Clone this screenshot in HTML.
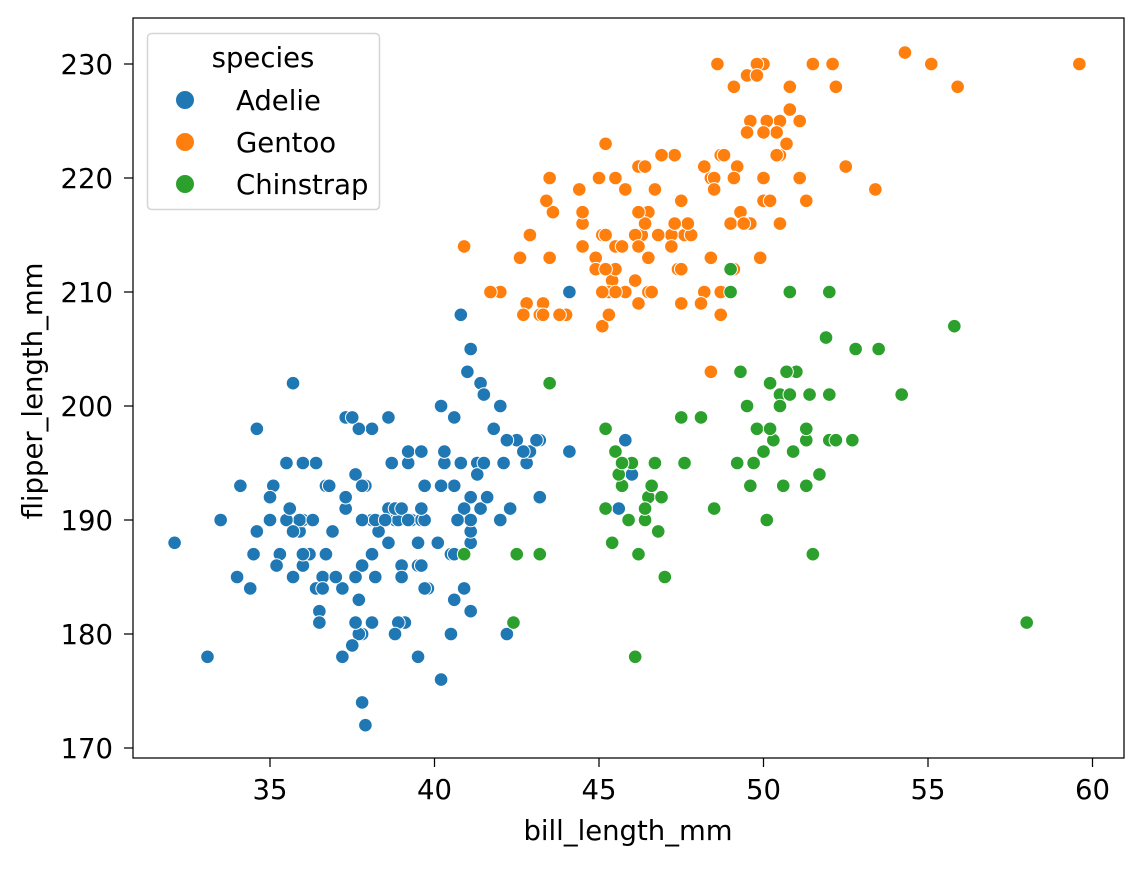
<!DOCTYPE html>
<html><head><meta charset="utf-8"><style>
html,body{margin:0;padding:0;background:#fff;}
svg text{font-family:"DejaVu Sans","Liberation Sans",sans-serif;fill:#000;}
</style></head><body>
<svg id="chart" width="1144" height="866" xmlns="http://www.w3.org/2000/svg">
<rect x="0" y="0" width="1144" height="866" fill="#fff"/>
<g id="points"></g>
<rect x="133" y="18" width="991" height="740" fill="none" stroke="#000" stroke-width="1.25"/>
<g id="xticks"></g>
<g id="yticks"></g>
<text x="628" y="840" font-size="27.5" text-anchor="middle">bill_length_mm</text>
<text x="0" y="0" font-size="27.5" text-anchor="middle" transform="translate(42,391) rotate(-90)">flipper_length_mm</text>
<g>
<rect x="147.5" y="33.5" width="232" height="176" rx="4" fill="#fff" fill-opacity="0.8" stroke="#d5d5d5" stroke-width="1.5"/>
<text x="263" y="67" font-size="27.5" text-anchor="middle">species</text>
<g><circle cx="185" cy="100" r="9.5" fill="#1f77b4" stroke="#fff" stroke-width="1"/><text x="236" y="110" font-size="27.5">Adelie</text></g>
<g><circle cx="185" cy="142" r="9.5" fill="#ff7f0e" stroke="#fff" stroke-width="1"/><text x="236" y="152" font-size="27.5">Gentoo</text></g>
<g><circle cx="185" cy="184" r="9.5" fill="#2ca02c" stroke="#fff" stroke-width="1"/><text x="236" y="194" font-size="27.5">Chinstrap</text></g>
</g>
</svg>
<script>
const seriesNames = ["Adelie","Gentoo","Chinstrap"];
const seriesColors = ["#1f77b4","#ff7f0e","#2ca02c"];
const xTickValues = [35,40,45,50,55,60];
const yTickValues = [170,180,190,200,210,220,230];
const adelieBill = [39.1,39.5,40.3,36.7,39.3,38.9,39.2,34.1,42,37.8,37.8,41.1,38.6,34.6,36.6,38.7,42.5,34.4,46,37.8,37.7,35.9,38.2,38.8,35.3,40.6,40.5,37.9,40.5,39.5,37.2,39.5,40.9,36.4,39.2,38.8,42.2,37.6,39.8,36.5,40.8,36,44.1,37,39.6,41.1,37.5,36,42.3,39.6,40.1,35,42,34.5,41.4,39,40.6,36.5,37.6,35.7,41.3,37.6,41.1,36.4,41.6,35.5,41.1,35.9,41.8,33.5,39.7,39.6,45.8,35.5,42.8,40.9,37.2,36.2,42.1,34.6,42.9,36.7,35.1,37.3,41.3,36.3,36.9,38.3,38.9,35.7,41.1,34,39.6,36.2,40.8,38.1,40.3,33.1,43.2,35,41,37.7,37.8,37.9,39.7,38.6,38.2,38.1,43.2,38.1,45.6,39.7,42.2,39.6,42.7,38.6,37.3,35.7,41.1,36.2,37.7,40.2,41.4,35.2,40.6,38.8,41.5,39,44.1,38.5,43.1,36.8,37.5,38.1,41.1,35.6,40.2,37,39.7,40.2,40.6,32.1,40.7,37.3,39,39.2,36.6,36,37.8,36,41.5];
const adelieFlipper = [181,186,195,193,190,181,195,193,190,186,180,182,191,198,185,195,197,184,194,174,180,189,185,180,187,183,187,172,180,178,178,188,184,195,196,190,180,181,184,182,195,186,196,185,190,182,179,190,191,186,188,190,200,187,191,186,193,181,194,185,195,185,192,184,192,195,188,190,198,190,190,196,197,190,195,191,184,187,195,189,196,187,193,191,194,190,189,189,190,202,205,185,186,187,208,190,196,178,192,192,203,183,190,193,184,199,190,181,197,198,191,193,197,191,196,188,199,189,189,187,198,176,202,186,199,191,195,191,210,190,197,193,199,187,190,191,200,185,193,193,187,188,190,192,185,190,184,195,193,187,201];
const gentooBill = [46.1,50,48.7,50,47.6,46.5,45.4,46.7,43.3,46.8,40.9,49,45.5,48.4,45.8,49.3,42,49.2,46.2,48.7,50.2,45.1,46.5,46.3,42.9,46.1,44.5,47.8,48.2,50,47.3,42.8,45.1,59.6,49.1,48.4,42.6,44.4,44,48.7,42.7,49.6,45.3,49.6,50.5,43.6,45.5,50.5,44.9,45.2,46.6,48.5,45.1,50.1,46.5,45,43.8,45.5,43.2,50.4,45.3,46.2,45.7,54.3,45.8,49.8,46.2,49.5,43.5,50.7,47.7,46.4,48.2,46.5,46.4,48.6,47.5,51.1,45.2,45.2,49.1,52.5,47.4,50,44.9,50.8,43.4,51.3,47.5,52.1,47.5,52.2,45.5,49.5,44.5,50.8,49.4,46.9,48.4,51.1,48.5,55.9,47.2,49.1,47.3,46.8,41.7,53.4,43.3,48.1,50.5,49.8,43.5,51.5,46.2,55.1,44.5,48.8,47.2,46.8,50.4,45.2,49.9];
const gentooFlipper = [211,230,210,218,215,210,211,219,209,215,214,216,214,213,210,217,210,221,209,222,218,215,213,215,215,215,216,215,210,220,222,209,207,230,220,220,213,219,208,208,208,225,210,216,222,217,210,225,213,215,210,220,210,225,217,220,208,220,208,224,208,221,214,231,219,230,214,229,220,223,216,221,221,217,216,230,209,220,215,223,212,221,212,224,212,228,218,218,212,230,218,228,212,224,214,226,216,222,203,225,219,228,215,228,216,215,210,219,208,209,216,229,213,230,217,230,217,222,214,215,222,212,213];
const chinstrapBill = [46.5,50,51.3,45.4,52.7,45.2,46.1,51.3,46,51.3,46.6,51.7,47,52,45.9,50.5,50.3,58,46.4,49.2,42.4,48.5,43.2,50.6,46.7,52,50.5,49.5,46.4,52.8,40.9,54.2,42.5,51,49.7,47.5,47.6,52,46.9,53.5,49,46.2,50.9,45.5,50.9,50.8,50.1,49,51.5,49.8,48.1,51.4,45.7,50.7,42.5,52.2,45.2,49.3,50.2,45.6,51.9,46.8,45.7,55.8,43.5,49.6,50.8,50.2];
const chinstrapFlipper = [192,196,193,188,197,198,178,197,195,198,193,194,185,201,190,201,197,181,190,195,181,191,187,193,195,197,200,200,191,205,187,201,187,203,195,199,195,210,192,205,210,187,196,196,196,201,190,212,187,198,199,201,193,203,187,197,191,203,202,194,206,189,195,207,202,193,210,198];

const NS='http://www.w3.org/2000/svg';
function xScale(v){return 270+(v-35)*32.9;}
function yScale(v){return 748-(v-170)*11.4;}
const pts=document.getElementById('points');
const allX=[adelieBill,gentooBill,chinstrapBill];
const allY=[adelieFlipper,gentooFlipper,chinstrapFlipper];
for(let s=0;s<3;s++){
  const g=document.createElementNS(NS,'g');
  
  
  for(let i=0;i<allX[s].length;i++){
    const c=document.createElementNS(NS,'circle');
    c.setAttribute('cx',xScale(allX[s][i]));
    c.setAttribute('cy',yScale(allY[s][i]));
    c.setAttribute('r',6.8);
    c.setAttribute('fill',seriesColors[s]);
    c.setAttribute('stroke','#fff');
    c.setAttribute('stroke-width',1);
    
    
    g.appendChild(c);
  }
  pts.appendChild(g);
}
const xg=document.getElementById('xticks');
xTickValues.forEach(v=>{
  const x=xScale(v);
  const l=document.createElementNS(NS,'line');
  l.setAttribute('x1',x);l.setAttribute('x2',x);l.setAttribute('y1',758);l.setAttribute('y2',767);
  l.setAttribute('stroke','#000');l.setAttribute('stroke-width',1.25);
  
  
  xg.appendChild(l);
  const t=document.createElementNS(NS,'text');
  t.setAttribute('x',x);t.setAttribute('y',799);t.setAttribute('font-size','27.5');t.setAttribute('text-anchor','middle');
  t.textContent=v;
  
  
  xg.appendChild(t);
});
const yg=document.getElementById('yticks');
yTickValues.forEach(v=>{
  const y=yScale(v);
  const l=document.createElementNS(NS,'line');
  l.setAttribute('x1',124);l.setAttribute('x2',133);l.setAttribute('y1',y);l.setAttribute('y2',y);
  l.setAttribute('stroke','#000');l.setAttribute('stroke-width',1.25);
  
  
  yg.appendChild(l);
  const t=document.createElementNS(NS,'text');
  t.setAttribute('x',113);t.setAttribute('y',y+10);t.setAttribute('font-size','27.5');t.setAttribute('text-anchor','end');
  t.textContent=v;
  
  
  yg.appendChild(t);
});
</script>
</body></html>
